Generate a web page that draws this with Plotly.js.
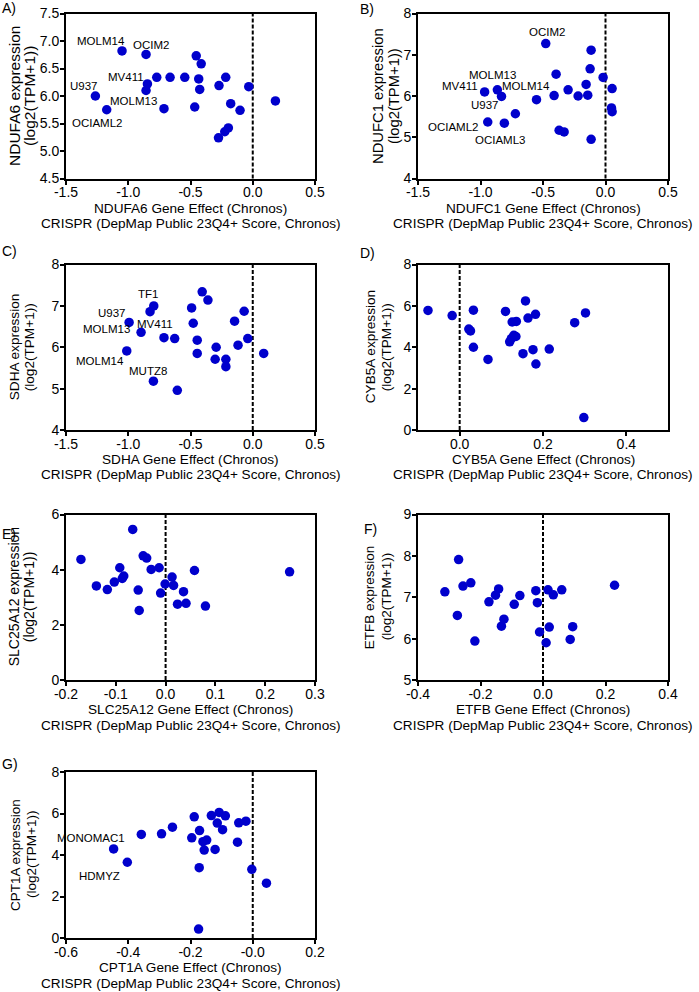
<!DOCTYPE html>
<html><head><meta charset="utf-8">
<script src="https://cdn.plot.ly/plotly-3.0.1.min.js"></script>
<style>html,body{margin:0;padding:0;background:#fff}#chart{width:699px;height:992px}</style>
</head><body><div id="chart"></div><script>
// ---------------- DATA ----------------
const genes = ["NDUFA6","NDUFC1","SDHA","CYB5A","SLC25A12","ETFB","CPT1A"];
const panelLetters = ["A)","B)","C)","D)","E)","F)","G)"];
const sourceLine = "CRISPR (DepMap Public 23Q4+ Score, Chronos)";

const ndufa6Effect = [-1.05,-0.857,-0.454,-0.414,-0.771,-0.664,-0.546,-0.434,-0.217,-0.846,-0.857,-0.426,-0.271,-0.032,-1.264,0.182,-1.173,-0.713,-0.466,-0.177,-0.102,-0.196,-0.225,-0.275];
const ndufa6Expr   = [6.82,6.755,6.73,6.585,6.34,6.34,6.34,6.31,6.34,6.22,6.10,6.12,6.19,6.17,6.00,5.91,5.75,5.77,5.80,5.86,5.74,5.42,5.35,5.24];
const ndufa6Labels = ["MOLM14","OCIM2","MV411","U937","MOLM13","OCIAML2"];
const ndufa6LabelPts = [0,1,9,14,10,16];

const ndufc1Effect = [-0.478,-0.115,-0.123,-0.395,-0.019,-0.155,0.053,-0.299,-0.865,-0.967,-0.832,-0.219,-0.142,-0.411,-0.552,0.048,0.053,-0.721,-0.942,-0.809,-0.371,-0.331,-0.115];
const ndufc1Expr   = [7.27,7.11,6.66,6.53,6.45,6.28,6.18,6.15,6.15,6.10,5.99,6.00,6.02,6.01,5.91,5.71,5.62,5.57,5.37,5.34,5.17,5.13,4.95];
const ndufc1Labels = ["OCIM2","MOLM13","MV411","MOLM14","U937","OCIAML2","OCIAML3"];
const ndufc1LabelPts = [0,8,9,10,9,18,19];

const sdhaEffect = [-0.406,-0.360,-0.795,-0.825,-0.491,-0.069,-0.993,-0.478,-0.146,-0.897,-0.713,-0.627,-0.446,-0.040,-0.294,-0.118,-1.012,-0.446,0.088,-0.302,-0.216,-0.216,-0.798,-0.606];
const sdhaExpr   = [7.34,7.14,7.00,6.86,6.95,6.87,6.60,6.58,6.63,6.36,6.23,6.21,6.17,6.21,6.00,6.05,5.91,5.85,5.85,5.71,5.71,5.53,5.18,4.96];
const sdhaLabels = ["TF1","U937","MV411","MOLM13","MOLM14","MUTZ8"];
const sdhaLabelPts = [2,6,3,9,16,22];

const cyb5aEffect = [-0.076,-0.018,0.033,0.022,0.026,0.033,0.068,0.110,0.158,0.126,0.136,0.164,0.182,0.130,0.124,0.120,0.135,0.152,0.176,0.215,0.183,0.276,0.302,0.298];
const cyb5aExpr   = [5.78,5.53,5.79,4.88,4.79,4.00,3.41,5.73,6.24,5.22,5.25,5.41,5.59,4.58,4.42,4.26,4.52,3.69,3.88,3.91,3.19,5.19,5.66,0.60];

const slc25a12Effect = [-0.066,-0.170,-0.045,-0.038,-0.092,-0.013,-0.029,0.058,0.249,-0.084,-0.087,0.013,-0.103,-0.139,-0.001,0.016,-0.117,-0.055,0.036,-0.010,0.024,0.041,0.080,-0.053];
const slc25a12Expr   = [5.46,4.37,4.50,4.42,4.07,4.07,4.01,3.97,3.92,3.77,3.68,3.73,3.55,3.41,3.48,3.43,3.28,3.26,3.20,3.15,2.75,2.78,2.68,2.52];

const etfbEffect = [-0.270,-0.314,-0.256,-0.231,-0.274,-0.218,-0.142,-0.152,-0.173,-0.074,-0.092,-0.125,-0.133,-0.023,-0.018,0.016,0.033,0.060,0.229,-0.011,0.020,0.010,0.095,0.087];
const etfbExpr   = [7.91,7.13,7.27,7.35,6.56,5.94,7.20,7.05,6.89,7.04,6.83,6.47,6.30,7.16,6.87,7.18,7.06,7.18,7.29,6.16,6.28,5.90,6.29,5.98];

const cpt1aEffect = [-0.447,-0.403,-0.358,-0.293,-0.258,-0.188,-0.196,-0.171,-0.160,-0.148,-0.156,-0.133,-0.108,-0.088,-0.114,-0.097,-0.121,-0.045,-0.022,-0.049,-0.172,-0.003,0.044,-0.174];
const cpt1aExpr   = [4.29,3.65,4.99,5.02,5.34,5.84,4.83,5.18,4.64,4.72,4.24,5.90,6.05,5.89,5.54,5.22,4.27,5.55,5.63,4.62,3.39,3.31,2.64,0.43];
const cpt1aLabels = ["MONOMAC1","HDMYZ"];
const cpt1aLabelPts = [0,1];

// tick labels
const xTicksLarge = [-1.5,-1.0,-0.5,0.0,0.5];
const xTicksLargeText = ["-1.5","-1.0","-0.5","0.0","0.5"];
const yTicksA = [4.5,5.0,5.5,6.0,6.5,7.0,7.5];
const yTicksAText = ["4.5","5.0","5.5","6.0","6.5","7.0","7.5"];
const yTicks4to8 = [4,5,6,7,8];
const yTicks4to8Text = ["4","5","6","7","8"];
const xTicksD = [0.0,0.2,0.4];
const xTicksDText = ["0.0","0.2","0.4"];
const yTicks0to8 = [0,2,4,6,8];
const yTicks0to8Text = ["0","2","4","6","8"];
const xTicksE = [-0.2,-0.1,0.0,0.1,0.2,0.3];
const xTicksEText = ["-0.2","-0.1","0.0","0.1","0.2","0.3"];
const yTicks0to6 = [0,2,4,6];
const yTicks0to6Text = ["0","2","4","6"];
const xTicksF = [-0.4,-0.2,0.0,0.2,0.4];
const xTicksFText = ["-0.4","-0.2","0.0","0.2","0.4"];
const yTicks5to9 = [5,6,7,8,9];
const yTicks5to9Text = ["5","6","7","8","9"];
const xTicksG = [-0.6,-0.4,-0.2,0.0,0.2];
const xTicksGText = ["-0.6","-0.4","-0.2","-0.0","0.2"];

// ---------------- LAYOUT / STYLE ----------------
const W = 699, H = 992;
const fx = p => p / W, fy = p => 1 - p / H;
const cols = [{l:66, r:315}, {l:418, r:668}];
const rows = [{t:13.5, b:178.5}, {t:264.5, b:430}, {t:514.5, b:680}, {t:772, b:938}];
const FONT = "Liberation Sans, Arial, Helvetica, sans-serif";
const BLUE = "rgb(0,0,204)";

const panels = [
  {x:ndufa6Effect, y:ndufa6Expr, labels:ndufa6Labels, pts:ndufa6LabelPts,
   shifts:[[-21,10],[5,9],[-21,7],[-11,10],[-13,-11],[-9,-13]],
   xr:[-1.5,0.5], xv:xTicksLarge, xt:xTicksLargeText, yr:[4.5,7.5], yv:yTicksA, yt:yTicksAText,
   row:0, col:0, letter:[0,8], ytx:[14,29], ytf:15.5},
  {x:ndufc1Effect, y:ndufc1Expr, labels:ndufc1Labels, pts:ndufc1LabelPts,
   shifts:[[1,12],[-5,15],[-25,6],[24,10],[0,-13],[-34,-5],[-4,-17]],
   xr:[-1.5,0.5], xv:xTicksLarge, xt:xTicksLargeText, yr:[4,8], yv:yTicks4to8, yt:yTicks4to8Text,
   row:0, col:1, letter:[358,9], ytx:[378,394], ytf:14.8},
  {x:sdhaEffect, y:sdhaExpr, labels:sdhaLabels, pts:sdhaLabelPts,
   shifts:[[-6,12],[-17,9],[5,-12],[-35,3],[-27,-10],[-5,10]],
   xr:[-1.5,0.5], xv:xTicksLarge, xt:xTicksLargeText, yr:[4,8], yv:yTicks4to8, yt:yTicks4to8Text,
   row:1, col:0, letter:[0,251], ytx:[14,29], ytf:13.6},
  {x:cyb5aEffect, y:cyb5aExpr, labels:[], pts:[], shifts:[],
   xr:[-0.1,0.5], xv:xTicksD, xt:xTicksDText, yr:[0,8], yv:yTicks0to8, yt:yTicks0to8Text,
   row:1, col:1, letter:[358,253], ytx:[370,386], ytf:13.6},
  {x:slc25a12Effect, y:slc25a12Expr, labels:[], pts:[], shifts:[],
   xr:[-0.2,0.3], xv:xTicksE, xt:xTicksEText, yr:[0,6], yv:yTicks0to6, yt:yTicks0to6Text,
   row:2, col:0, letter:[0,534], ytx:[14,29], ytf:14},
  {x:etfbEffect, y:etfbExpr, labels:[], pts:[], shifts:[],
   xr:[-0.4,0.4], xv:xTicksF, xt:xTicksFText, yr:[5,9], yv:yTicks5to9, yt:yTicks5to9Text,
   row:2, col:1, letter:[362,529], ytx:[369,386], ytf:13.5},
  {x:cpt1aEffect, y:cpt1aExpr, labels:cpt1aLabels, pts:cpt1aLabelPts,
   shifts:[[-23,11],[-28,-14]],
   xr:[-0.6,0.2], xv:xTicksG, xt:xTicksGText, yr:[0,8], yv:yTicks0to8, yt:yTicks0to8Text,
   row:3, col:0, letter:[0,764], ytx:[15,31], ytf:13.5}
];

const data = [];
const layout = {
  width: W, height: H, margin: {l:0, r:0, t:0, b:0},
  paper_bgcolor: "#fff", plot_bgcolor: "#fff", showlegend: false,
  font: {family: FONT, color: "#000"},
  annotations: [], shapes: []
};

panels.forEach((p, i) => {
  const n = i + 1;
  const xa = "x" + (n === 1 ? "" : n), ya = "y" + (n === 1 ? "" : n);
  const c = cols[p.col], r = rows[p.row];
  data.push({
    type: "scatter", mode: "markers", x: p.x, y: p.y, xaxis: xa, yaxis: ya,
    marker: {color: BLUE, size: 9.5, line: {width: 0}}, hoverinfo: "x+y"
  });
  const axCommon = {
    showgrid: false, zeroline: false, showline: true, linecolor: "#000", linewidth: 2,
    mirror: true, ticks: "outside", ticklen: 4, tickwidth: 2, tickcolor: "#000",
    tickfont: {family: FONT, size: 14, color: "#000"}, tickmode: "array", fixedrange: true
  };
  layout["xaxis" + (n === 1 ? "" : n)] = Object.assign({}, axCommon, {
    domain: [fx(c.l), fx(c.r)], range: p.xr, anchor: ya, tickvals: p.xv, ticktext: p.xt,
    ticklabelstandoff: -4
  });
  layout["yaxis" + (n === 1 ? "" : n)] = Object.assign({}, axCommon, {
    domain: [fy(r.b), fy(r.t)], range: p.yr, anchor: xa, tickvals: p.yv, ticktext: p.yt,
    ticklabelstandoff: -2
  });
  // dashed vertical line at zero effect
  layout.shapes.push({
    type: "line", xref: xa, yref: ya + " domain", x0: 0, x1: 0, y0: 0, y1: 1,
    line: {color: "#000", width: 2, dash: "4px,2px"}, layer: "below"
  });
  const cx = (c.l + c.r) / 2;
  // x title (two lines)
  layout.annotations.push({
    xref: "paper", yref: "paper", x: fx(cx), y: fy(r.b + 29.5), xanchor: "center", yanchor: "middle",
    text: genes[i] + " Gene Effect (Chronos)", showarrow: false, font: {size: 13.6},
    borderpad: 0
  });
  layout.annotations.push({
    xref: "paper", yref: "paper", x: fx(cx), y: fy(r.b + 45), xanchor: "center", yanchor: "middle",
    text: sourceLine, showarrow: false, font: {size: 13.6}, borderpad: 0
  });
  // y title (two lines)
  const cy = (r.t + r.b) / 2;
  layout.annotations.push({
    xref: "paper", yref: "paper", x: fx(p.ytx[0]), y: fy(cy), xanchor: "center", yanchor: "middle",
    text: genes[i] + " expression", textangle: -90, showarrow: false, font: {size: p.ytf}
  });
  layout.annotations.push({
    xref: "paper", yref: "paper", x: fx(p.ytx[1]), y: fy(cy), xanchor: "center", yanchor: "middle",
    text: "(log2(TPM+1))", textangle: -90, showarrow: false, font: {size: p.ytf}
  });
  // panel letter
  layout.annotations.push({
    xref: "paper", yref: "paper", x: fx(p.letter[0]), y: fy(p.letter[1]), xanchor: "left", yanchor: "middle",
    text: panelLetters[i], showarrow: false, font: {size: 14}
  });
  // cell line labels
  p.labels.forEach((name, k) => {
    const idx = p.pts[k];
    layout.annotations.push({
      xref: xa, yref: ya, x: p.x[idx], y: p.y[idx], xanchor: "center", yanchor: "middle",
      xshift: p.shifts[k][0], yshift: p.shifts[k][1],
      text: name, showarrow: false, font: {size: 11.5}
    });
  });
});

Plotly.newPlot("chart", data, layout, {displayModeBar: false, staticPlot: true});
</script></body></html>
